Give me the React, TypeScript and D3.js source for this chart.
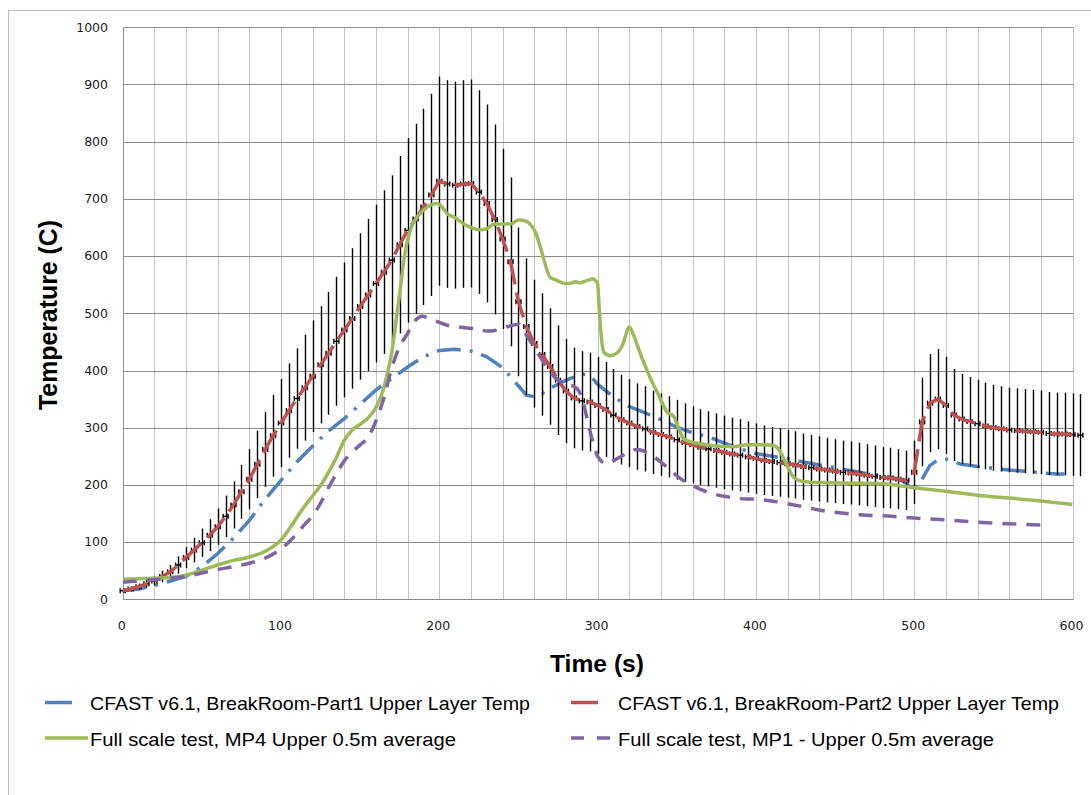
import React from "react";
import * as d3 from "d3";

// ---- Data ----
const redTemps = [
  15, 18, 22, 27, 32, 40, 48, 60, 73, 86, 99, 112, 127, 145, 165, 188, 210, 236, 262, 286,
  308, 330, 351, 370, 390, 410, 430, 451, 471, 491, 512, 532, 552, 572, 593, 620, 645, 665, 686, 707,
  731, 726, 724, 726, 727, 712, 692, 664, 630, 590, 520, 477, 447, 428, 407, 383, 364, 352, 347, 345,
  339, 332, 322, 314, 308, 302, 298, 292, 288, 284, 279, 274, 270, 266, 263, 260, 257, 254, 252, 249,
  246, 243, 241, 239, 237, 235, 232, 230, 228, 226, 224, 222, 221, 219, 217, 215, 213, 212, 210, 208,
  222, 310, 343, 350, 339, 322, 315, 311, 307, 303, 300, 298, 296, 295, 294, 293, 292, 290, 289, 289,
  288, 287,
];
const redTimes = redTemps.map((_, i) => i * 5);

const blueSeries: [number, number][] = [
  [0, 15], [10, 18], [20, 24], [30, 32], [40, 40], [50, 57], [60, 80], [70, 107], [80, 138], [90, 175],
  [100, 208], [110, 240], [120, 268], [130, 294], [140, 316], [150, 341], [160, 366], [170, 386], [180, 406],
  [190, 424], [200, 435], [210, 437], [220, 434], [230, 424], [240, 405], [250, 373], [255, 357], [260, 354],
  [265, 360], [270, 369], [280, 383], [290, 394], [295, 392], [300, 376], [310, 354], [320, 337], [330, 326],
  [340, 314], [350, 301], [360, 291], [370, 284], [380, 273], [390, 263], [400, 255], [410, 250], [420, 246],
  [430, 240], [440, 235], [450, 230], [460, 225], [470, 220], [480, 216], [490, 210], [495, 203], [500, 190],
  [505, 210], [510, 234], [515, 244], [520, 245], [525, 240], [530, 236], [540, 232], [550, 229], [560, 226],
  [570, 224], [580, 221], [590, 219], [595, 219],
];

const greenSeries: [number, number][] = [
  [0, 35], [10, 36], [20, 37], [30, 38], [40, 42], [50, 51], [60, 60], [70, 68], [80, 74], [90, 84],
  [100, 104], [105, 122], [110, 143], [115, 163], [120, 181], [125, 199], [130, 222], [135, 248], [140, 278],
  [145, 296], [150, 306], [155, 317], [160, 335], [165, 370], [168, 405], [170, 432], [173, 494], [175, 535],
  [178, 600], [182, 648], [186, 668], [190, 680], [195, 690], [199, 692], [202, 685], [205, 674], [210, 667],
  [215, 657], [220, 650], [225, 646], [230, 648], [235, 656], [240, 656], [245, 656], [250, 663], [255, 661],
  [258, 654], [261, 640], [264, 614], [267, 585], [270, 563], [274, 558], [278, 553], [282, 552], [286, 555],
  [289, 553], [293, 557], [297, 560], [300, 552], [301, 510], [302, 470], [304, 432], [308, 426], [312, 430],
  [316, 446], [320, 476], [323, 460], [326, 437], [332, 395], [338, 360], [344, 327], [348, 320], [351, 300],
  [354, 282], [358, 276], [365, 272], [375, 268], [385, 267], [395, 270], [405, 270], [412, 268], [416, 255],
  [420, 232], [424, 213], [430, 206], [440, 204], [460, 203], [480, 202], [500, 195], [520, 189], [540, 182],
  [560, 177], [580, 172], [600, 166],
];

const purpleSeries: [number, number][] = [
  [0, 30], [10, 32], [20, 34], [30, 37], [40, 40], [50, 46], [60, 52], [70, 57], [80, 63], [90, 72],
  [95, 79], [100, 88], [105, 100], [110, 115], [115, 131], [120, 146], [125, 168], [130, 195], [135, 220],
  [140, 242], [145, 258], [150, 270], [155, 283], [160, 312], [165, 352], [170, 405], [175, 442], [180, 465],
  [185, 488], [189, 495], [195, 489], [200, 484], [205, 479], [210, 477], [215, 475], [220, 474], [225, 472],
  [230, 469], [235, 470], [240, 475], [245, 478], [250, 481], [255, 462], [260, 440], [265, 418], [270, 398],
  [275, 383], [280, 376], [285, 372], [288, 365], [291, 343], [294, 308], [297, 275], [300, 250], [303, 240],
  [306, 237], [310, 242], [315, 250], [320, 258], [325, 262], [330, 258], [335, 250], [340, 240], [345, 228],
  [350, 216], [355, 206], [360, 199], [365, 192], [370, 187], [380, 180], [390, 176], [400, 175], [410, 172],
  [420, 167], [430, 162], [440, 156], [450, 152], [460, 149], [470, 147], [480, 146], [500, 142], [520, 139],
  [540, 135], [560, 132], [580, 130],
];

const yTicks = [0, 100, 200, 300, 400, 500, 600, 700, 800, 900, 1000];
const xTicks = [0, 100, 200, 300, 400, 500, 600];
const xGrid = d3.range(0, 620, 20);

const legendLabels = [
  "CFAST v6.1, BreakRoom-Part1 Upper Layer Temp",
  "CFAST v6.1, BreakRoom-Part2 Upper Layer Temp",
  "Full scale test, MP4 Upper 0.5m average",
  "Full scale test, MP1 - Upper 0.5m average",
];

const COLORS = { blue: "#4F81BD", red: "#C0504D", green: "#9BBB59", purple: "#8064A2" };

export default function App() {
  const W = 1091, H = 795;
  const x = d3.scaleLinear().domain([0, 600]).range([122.7, 1072.5]);
  const y = d3.scaleLinear().domain([0, 1000]).range([599.3, 27.3]);
  const px = (v: number) => Math.round(v) + 0.5;

  const smooth = d3.line<[number, number]>().x(d => x(d[0])).y(d => y(d[1])).curve(d3.curveMonotoneX);
  const straight = d3.line<[number, number]>().x(d => x(d[0])).y(d => y(d[1]));

  const redPts: [number, number][] = redTimes.map((t, i) => [t, redTemps[i]]);
  const errErr = 0.25;

  const font = "'Liberation Sans', Arial, sans-serif";
  const tickFont = "'DejaVu Sans', Verdana, sans-serif";

  return (
    <svg width={W} height={H} style={{ position: "absolute", left: 0, top: 0, background: "#fff" }}>
      <defs>
        <clipPath id="plot">
          <rect x={x(0)} y={y(1000) - 2} width={x(600) - x(0)} height={y(0) - y(1000) + 4} />
        </clipPath>
      </defs>
      <rect x={0} y={0} width={W} height={H} fill="#fff" />
      {/* chart outer border */}
      <rect x={8.5} y={10.5} width={1100} height={820} fill="none" stroke="#BFBFBF" strokeWidth={1} />

      {/* vertical grid */}
      {xGrid.map(v => (
        <line key={"vx" + v} x1={px(x(v))} x2={px(x(v))} y1={px(y(1000))} y2={px(y(0))} stroke="#C4C4C4" strokeWidth={1} />
      ))}
      {/* horizontal grid */}
      {yTicks.map(v => (
        <line key={"hy" + v} x1={px(x(0))} x2={px(x(600))} y1={px(y(v))} y2={px(y(v))} stroke="#8C8C8C" strokeWidth={1} />
      ))}
      <line x1={px(x(0))} x2={px(x(0))} y1={px(y(1000))} y2={px(y(0))} stroke="#8C8C8C" strokeWidth={1} />

      {/* y tick labels */}
      {yTicks.map(v => (
        <text key={"yt" + v} x={108} y={y(v)} dy="0.35em" textAnchor="end" fontFamily={tickFont} fontSize={12.5} fill="#1a1a1a">
          {v}
        </text>
      ))}
      {/* x tick labels */}
      {xTicks.map(v => (
        <text key={"xt" + v} x={x(v) - 1} y={626} dy="0.35em" textAnchor="middle" fontFamily={tickFont} fontSize={12.5} fill="#1a1a1a">
          {v}
        </text>
      ))}

      {/* axis titles */}
      <text
        transform={`translate(57,${315}) rotate(-90)`}
        textAnchor="middle"
        fontFamily={font}
        fontWeight="bold"
        fontSize={25}
        textLength={190}
        lengthAdjust="spacingAndGlyphs"
        fill="#000"
      >
        Temperature (C)
      </text>
      <text x={597} y={672} textAnchor="middle" fontFamily={font} fontWeight="bold" fontSize={24} textLength={94} lengthAdjust="spacingAndGlyphs" fill="#000">
        Time (s)
      </text>

      {/* series */}
      <g clipPath="url(#plot)">
        <path d={straight(blueSeries) || ""} fill="none" stroke={COLORS.blue} strokeWidth={3.5} strokeDasharray="24 9 3 9" />
      </g>
      {/* error bars on red series */}
      <g stroke="#000" strokeWidth={1.4}>
        {redPts.map(([t, v]) => (
          <line key={"eb" + t} x1={px(x(t))} x2={px(x(t))} y1={y(v * (1 + errErr))} y2={y(v * (1 - errErr))} />
        ))}
        {redPts.map(([t, v]) => (
          <g key={"hb" + t}>
            <line x1={x(t) - 2.5} x2={x(t) + 2.5} y1={y(v)} y2={y(v)} />
            <line x1={x(t) - 2.5} x2={x(t) - 2.5} y1={y(v) - 2.5} y2={y(v) + 2.5} />
            <line x1={x(t) + 2.5} x2={x(t) + 2.5} y1={y(v) - 2.5} y2={y(v) + 2.5} />
          </g>
        ))}
      </g>
      <g clipPath="url(#plot)">
        <path d={straight(redPts) || ""} fill="none" stroke={COLORS.red} strokeWidth={3.5} strokeDasharray="26 8" />
        <path d={smooth(greenSeries) || ""} fill="none" stroke={COLORS.green} strokeWidth={3.5} strokeLinejoin="round" />
        <path d={smooth(purpleSeries) || ""} fill="none" stroke={COLORS.purple} strokeWidth={3.5} strokeDasharray="14 10" />
      </g>

      {/* legend */}
      <line x1={45} x2={72} y1={702.5} y2={702.5} stroke={COLORS.blue} strokeWidth={3.5} />
      <text x={90} y={709.5} fontFamily={font} fontSize={19} textLength={440} lengthAdjust="spacingAndGlyphs" fill="#000">
        {legendLabels[0]}
      </text>
      <line x1={571} x2={598} y1={702.5} y2={702.5} stroke={COLORS.red} strokeWidth={3.5} />
      <text x={618} y={709.5} fontFamily={font} fontSize={19} textLength={441} lengthAdjust="spacingAndGlyphs" fill="#000">
        {legendLabels[1]}
      </text>
      <line x1={45} x2={88} y1={738} y2={738} stroke={COLORS.green} strokeWidth={3.5} />
      <text x={90} y={745.5} fontFamily={font} fontSize={19} textLength={366} lengthAdjust="spacingAndGlyphs" fill="#000">
        {legendLabels[2]}
      </text>
      <line x1={571} x2={610} y1={738} y2={738} stroke={COLORS.purple} strokeWidth={3.5} strokeDasharray="13 13" />
      <text x={618} y={745.5} fontFamily={font} fontSize={19} textLength={376} lengthAdjust="spacingAndGlyphs" fill="#000">
        {legendLabels[3]}
      </text>
    </svg>
  );
}
